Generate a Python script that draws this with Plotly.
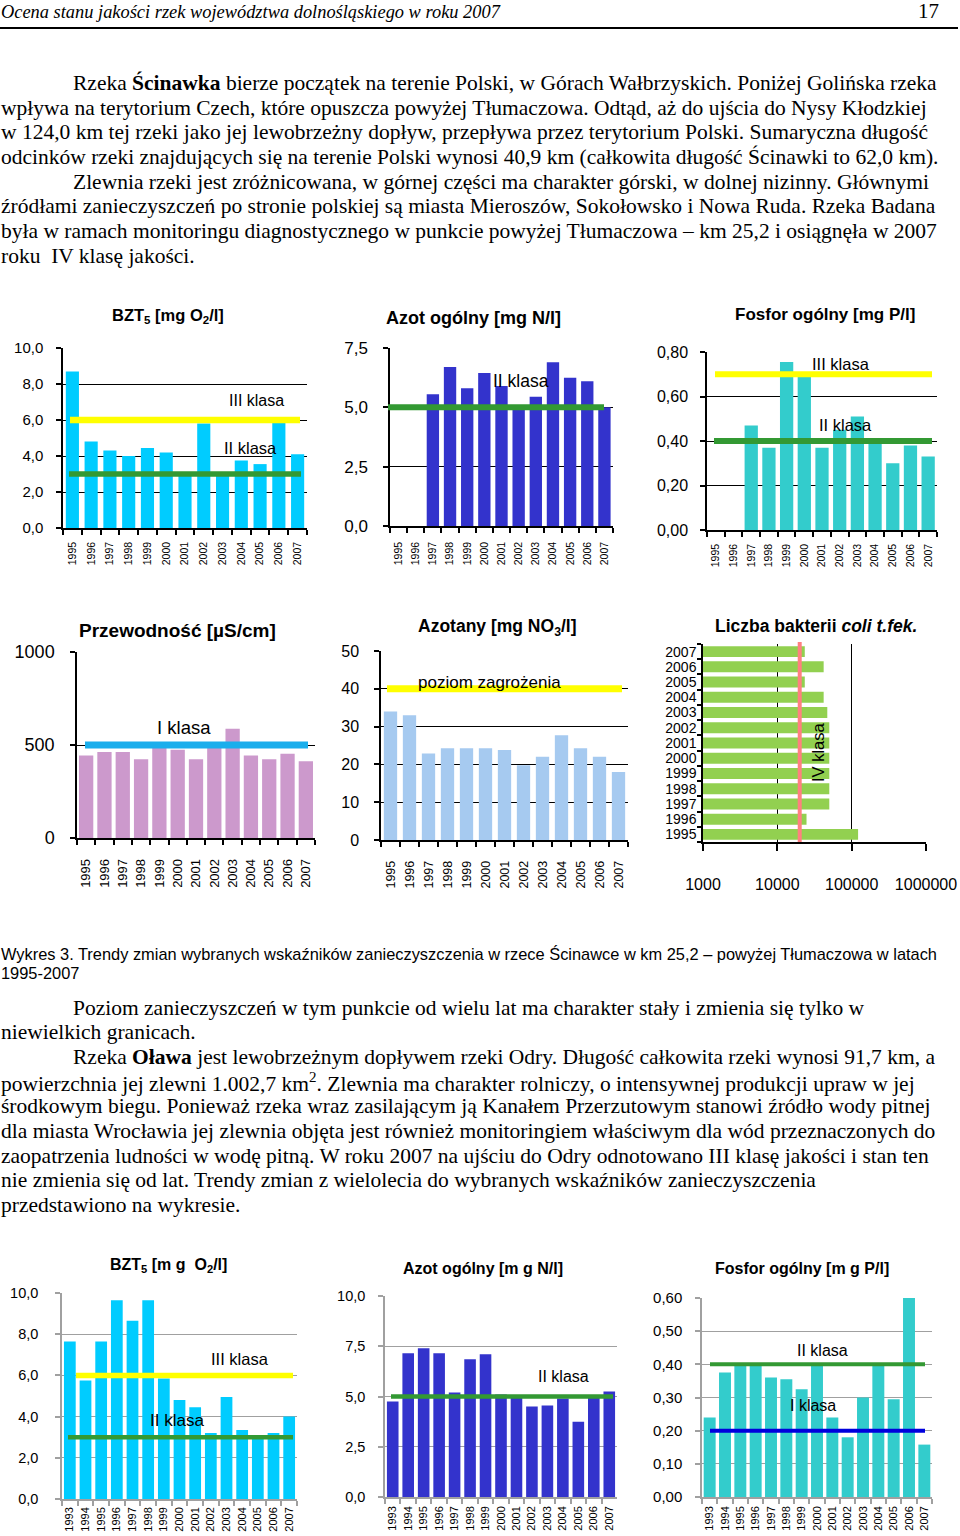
import plotly.graph_objects as go

W, H = 960, 1536
SANS = "Liberation Sans, Arial, sans-serif"
SERIF = "Liberation Serif, Times New Roman, serif"

# ---------------- data: Ścinawka (1995-2007) ----------------
SC_YEARS = ["1995", "1996", "1997", "1998", "1999", "2000", "2001",
            "2002", "2003", "2004", "2005", "2006", "2007"]
SC_BZT5 = [8.7, 4.8, 4.3, 4.0, 4.45, 4.2, 3.0, 5.8, 3.0, 3.75, 3.55, 5.9, 4.1]
SC_AZOT = [None, None, 5.55, 6.7, 5.8, 6.45, 5.9, 5.0, 5.45, 6.9, 6.25, 6.1, 5.0]
SC_FOSFOR = [None, None, 0.47, 0.37, 0.755, 0.69, 0.37, 0.45, 0.51, 0.41, 0.30, 0.38, 0.33]
SC_PRZEW = [443, 462, 462, 423, 490, 475, 423, 490, 588, 443, 423, 453, 412]
SC_AZOTANY = [34.0, 33.0, 22.9, 24.3, 24.3, 24.3, 23.8, 19.8, 22.0, 27.7, 24.3, 22.0, 18.0]
SC_COLI = [122000, 24700, 50000, 50000, 50000, 50000, 50000, 50000, 47000, 42000, 23400, 42000, 23400]

# ---------------- data: Oława (1993-2007) ----------------
OL_YEARS = ["1993", "1994", "1995", "1996", "1997", "1998", "1999", "2000",
            "2001", "2002", "2003", "2004", "2005", "2006", "2007"]
OL_BZT5 = [7.65, 5.75, 7.65, 9.65, 8.65, 9.65, 5.85, 4.8, 4.45, 3.2, 4.95, 3.35, 3.1, 3.2, 4.0]
OL_AZOT = [4.75, 7.15, 7.4, 7.15, 5.2, 6.85, 7.1, 5.1, 4.95, 4.5, 4.55, 4.9, 3.75, 4.95, 5.25]
OL_FOSFOR = [0.24, 0.375, 0.40, 0.40, 0.36, 0.355, 0.325, 0.40, 0.24, 0.18, 0.30, 0.40, 0.295, 0.61, 0.158]

# ---------------- class thresholds ----------------
BZT5_KL2, BZT5_KL3 = 3.0, 6.0
AZOT_KL2 = 5.0
FOSFOR_KL2, FOSFOR_KL3 = 0.4, 0.7
PRZEW_KL1 = 500
AZOTANY_ZAGR = 40
COLI_KL4 = 20000
OL_FOSFOR_KL1, OL_FOSFOR_KL2 = 0.2, 0.4

# ---------------- tick values ----------------
BZT5_TICKS = [0, 2, 4, 6, 8, 10]
AZOT_TICKS_SC = [0, 2.5, 5, 7.5]
FOSFOR_TICKS_SC = [0, 0.2, 0.4, 0.6, 0.8]
PRZEW_TICKS = [0, 500, 1000]
AZOTANY_TICKS = [0, 10, 20, 30, 40, 50]
COLI_TICKS = [1000, 10000, 100000, 1000000]
AZOT_TICKS_OL = [0, 2.5, 5, 7.5, 10]
FOSFOR_TICKS_OL = [0, 0.1, 0.2, 0.3, 0.4, 0.5, 0.6]

# ---------------- colours ----------------
SKY = "#00CCFF"
NAVY = "#3333CC"
TEAL = "#33CCCC"
PLUM = "#CC99CC"
LIGHTBLUE = "#A6CAF0"
LIME = "#92D050"
YELLOW = "#FFFF00"
GREEN = "#339933"
CYANLINE = "#1AAEEC"
BLUE = "#0000DD"
SALMON = "#FF8080"
GRAY = "#A0A0A0"

# ---------------- page text ----------------
PARA1 = [
    (72, 83, "Rzeka <b>Ścinawka</b> bierze początek na terenie Polski, w Górach Wałbrzyskich. Poniżej Golińska rzeka"),
    (0, 108, "wpływa na terytorium Czech, które opuszcza powyżej Tłumaczowa. Odtąd, aż do ujścia do Nysy Kłodzkiej"),
    (0, 132, "w 124,0 km tej rzeki jako jej lewobrzeżny dopływ, przepływa przez terytorium Polski. Sumaryczna długość"),
    (0, 157, "odcinków rzeki znajdujących się na terenie Polski wynosi 40,9 km (całkowita długość Ścinawki to 62,0 km)."),
    (72, 182, "Zlewnia rzeki jest zróżnicowana, w górnej części ma charakter górski, w dolnej nizinny. Głównymi"),
    (0, 206, "źródłami zanieczyszczeń po stronie polskiej są miasta Mieroszów, Sokołowsko i Nowa Ruda. Rzeka Badana"),
    (0, 231, "była w ramach monitoringu diagnostycznego w punkcie powyżej Tłumaczowa – km 25,2 i osiągnęła w 2007"),
    (0, 256, "roku  IV klasę jakości."),
]
PARA2 = [
    (72, 1008, "Poziom zanieczyszczeń w tym punkcie od wielu lat ma charakter stały i zmienia się tylko w"),
    (0, 1032, "niewielkich granicach."),
    (72, 1057, "Rzeka <b>Oława</b> jest lewobrzeżnym dopływem rzeki Odry. Długość całkowita rzeki wynosi 91,7 km, a"),
    (0, 1082, "powierzchnia jej zlewni 1.002,7 km<sup>2</sup>. Zlewnia ma charakter rolniczy, o intensywnej produkcji upraw w jej"),
    (0, 1106, "środkowym biegu. Ponieważ rzeka wraz zasilającym ją Kanałem Przerzutowym stanowi źródło wody pitnej"),
    (0, 1131, "dla miasta Wrocławia jej zlewnia objęta jest również monitoringiem właściwym dla wód przeznaczonych do"),
    (0, 1156, "zaopatrzenia ludności w wodę pitną. W roku 2007 na ujściu do Odry odnotowano III klasę jakości i stan ten"),
    (0, 1180, "nie zmienia się od lat. Trendy zmian z wielolecia do wybranych wskaźników zanieczyszczenia"),
    (0, 1205, "przedstawiono na wykresie."),
]
CAPTION = [
    (0, 954, "Wykres 3. Trendy zmian wybranych wskaźników zanieczyszczenia w rzece Ścinawce w km 25,2 – powyżej Tłumaczowa w latach"),
    (0, 973, "1995-2007"),
]

fig = go.Figure()
annotations = []
shapes = []


def note(text, x, y, size, family=SANS, xanchor="center", angle=0, color="black"):
    annotations.append(dict(
        text=text, x=x / W, y=1 - y / H, xref="paper", yref="paper",
        xanchor=xanchor, yanchor="middle", showarrow=False, textangle=angle,
        font=dict(family=family, size=size, color=color)))


def ax_names(i):
    s = "" if i == 1 else str(i)
    return "x" + s, "y" + s, "xaxis" + s, "yaxis" + s


# vertical bar chart specs
charts = [
    dict(box=(63, 348, 307, 528), cats=SC_YEARS, vals=SC_BZT5, color=SKY, rng=[0, 10],
         tv=BZT5_TICKS, fmt=".1f", grid="black", axc="black", ysz=15, ystand=10,
         xsz=10.5, xstand=8, gap=0.3,
         lines=[(BZT5_KL3, YELLOW, 70, 300, 6.5), (BZT5_KL2, GREEN, 69, 301, 5.5)]),
    dict(box=(390, 348, 613, 526), cats=SC_YEARS, vals=SC_AZOT, color=NAVY, rng=[0, 7.5],
         tv=AZOT_TICKS_SC, fmt=".1f", grid="black", axc="black", ysz=17, ystand=12,
         xsz=10.5, xstand=10, gap=0.28,
         lines=[(AZOT_KL2, GREEN, 388, 604, 6)]),
    dict(box=(707, 352, 937, 530), cats=SC_YEARS, vals=SC_FOSFOR, color=TEAL, rng=[0, 0.8],
         tv=FOSFOR_TICKS_SC, fmt=".2f", grid="black", axc="black", ysz=16, ystand=9,
         xsz=10.5, xstand=8, gap=0.25,
         lines=[(FOSFOR_KL3, YELLOW, 715, 932, 6), (FOSFOR_KL2, GREEN, 714, 932, 6)]),
    dict(box=(77, 652, 315, 838), cats=SC_YEARS, vals=SC_PRZEW, color=PLUM, rng=[0, 1000],
         tv=PRZEW_TICKS, fmt="d", grid="black", axc="black", ysz=18, ystand=12,
         xsz=13, xstand=14, gap=0.22,
         lines=[(PRZEW_KL1, CYANLINE, 85, 308, 7)]),
    dict(box=(381, 651, 628, 840), cats=SC_YEARS, vals=SC_AZOTANY, color=LIGHTBLUE, rng=[0, 50],
         tv=AZOTANY_TICKS, fmt="d", grid="black", axc="black", ysz=16, ystand=12,
         xsz=12.5, xstand=14, gap=0.3,
         lines=[(AZOTANY_ZAGR, YELLOW, 387, 622, 7)]),
    None,  # horizontal chart handled separately (index 6)
    dict(box=(62, 1293, 297, 1499), cats=OL_YEARS, vals=OL_BZT5, color=SKY, rng=[0, 10],
         tv=BZT5_TICKS, fmt=".1f", grid=GRAY, axc=GRAY, ysz=14.5, ystand=14,
         xsz=11, xstand=2, gap=0.25,
         lines=[(BZT5_KL3, YELLOW, 76, 293, 5.5), (BZT5_KL2, GREEN, 68, 293, 4.5)]),
    dict(box=(385, 1296, 617, 1497), cats=OL_YEARS, vals=OL_AZOT, color=NAVY, rng=[0, 10],
         tv=AZOT_TICKS_OL, fmt=".1f", grid=GRAY, axc=GRAY, ysz=14.5, ystand=10,
         xsz=11, xstand=3, gap=0.25,
         lines=[(AZOT_KL2, GREEN, 391, 613, 4.5)]),
    dict(box=(702, 1298, 932, 1497), cats=OL_YEARS, vals=OL_FOSFOR, color=TEAL, rng=[0, 0.6],
         tv=FOSFOR_TICKS_OL, fmt=".2f", grid=GRAY, axc=GRAY, ysz=15, ystand=10,
         xsz=11, xstand=3, gap=0.22,
         lines=[(OL_FOSFOR_KL2, GREEN, 710, 925, 4), (OL_FOSFOR_KL1, BLUE, 710, 925, 4)]),
]

layout_axes = {}
for i, c in enumerate(charts, start=1):
    if c is None:
        continue
    xa, ya, xk, yk = ax_names(i)
    l, t, r, b = c["box"]
    fig.add_trace(go.Bar(x=c["cats"], y=c["vals"], xaxis=xa, yaxis=ya, width=1 - c["gap"],
                         marker=dict(color=c["color"], line=dict(width=0)),
                         showlegend=False, hoverinfo="x+y"))
    layout_axes[xk] = dict(
        domain=[l / W, r / W], anchor=ya, type="category", automargin=False,
        categoryorder="array", categoryarray=c["cats"], tickson="boundaries",
        tickmode="linear", tick0=0, dtick=1,
        ticks="outside", ticklen=5, tickcolor=c["axc"], tickwidth=1.5,
        showline=True, linecolor=c["axc"], linewidth=1.5, showgrid=False,
        tickangle=-90, ticklabelstandoff=c["xstand"],
        tickfont=dict(family=SANS, size=c["xsz"], color="black"))
    layout_axes[yk] = dict(
        domain=[1 - b / H, 1 - t / H], anchor=xa, range=c["rng"], automargin=False,
        tickvals=c["tv"], tickformat=c["fmt"], showgrid=True,
        gridcolor=c["grid"], gridwidth=1.2, showline=True, linecolor=c["axc"],
        linewidth=1.5, ticks="outside", ticklen=5, tickcolor=c["axc"],
        tickwidth=1.5, zeroline=False, ticklabelstandoff=c["ystand"],
        tickfont=dict(family=SANS, size=c["ysz"], color="black"))
    for val, col, x0p, x1p, wid in c["lines"]:
        shapes.append(dict(type="line", xref=xa + " domain", yref=ya,
                           x0=(x0p - l) / (r - l), x1=(x1p - l) / (r - l),
                           y0=val, y1=val, line=dict(color=col, width=wid)))

# horizontal log bar chart (coli)
l, t, r, b = 703, 644, 926, 842
fig.add_trace(go.Bar(y=SC_YEARS, x=SC_COLI, orientation="h", xaxis="x6", yaxis="y6", width=0.72,
                     marker=dict(color=LIME, line=dict(width=0)), showlegend=False))
layout_axes["xaxis6"] = dict(
    domain=[l / W, r / W], anchor="y6", type="log", range=[3, 6], automargin=False,
    tickvals=COLI_TICKS, tickformat="d", showgrid=True, gridcolor="black",
    gridwidth=1.2, showline=True, linecolor="black", linewidth=1.5,
    ticks="outside", ticklen=7, tickwidth=1.5, tickcolor="black",
    zeroline=False, ticklabelstandoff=20,
    tickfont=dict(family=SANS, size=16, color="black"))
layout_axes["yaxis6"] = dict(
    domain=[1 - b / H, 1 - t / H], anchor="x6", type="category", automargin=False,
    categoryorder="array", categoryarray=SC_YEARS, tickson="boundaries",
    tickmode="linear", tick0=0, dtick=1,
    ticks="outside", ticklen=4, tickwidth=1.5, tickcolor="black",
    showline=True, linecolor="black", linewidth=1.5, showgrid=False,
    ticklabelstandoff=2, tickfont=dict(family=SANS, size=14, color="black"))
shapes.append(dict(type="line", xref="x6", yref="y6 domain", x0=COLI_KL4, x1=COLI_KL4,
                   y0=0, y1=1.01, line=dict(color=SALMON, width=4)))

# chart titles
note("<b>BZT<sub>5</sub> [mg O<sub>2</sub>/l]</b>", 168, 316, 16.5)
note("<b>Azot ogólny [mg N/l]</b>", 473, 318, 18)
note("<b>Fosfor ogólny [mg P/l]</b>", 825, 314, 17)
note("<b>Przewodność [µS/cm]</b>", 77, 630, 19, xanchor="left")
note("<b>Azotany [mg NO<sub>3</sub>/l]</b>", 497, 627, 17.5)
note("<b>Liczba bakterii <i>coli t.fek.</i></b>", 816, 626, 17.5)
note("<b>BZT<sub>5</sub> [m g  O<sub>2</sub>/l]</b>", 168, 1265, 16)
note("<b>Azot ogólny [m g N/l]</b>", 483, 1268, 16)
note("<b>Fosfor ogólny [m g P/l]</b>", 802, 1268, 16)

# class labels
note("III klasa", 256, 400, 16)
note("II klasa", 250, 448, 16.5)
note("II klasa", 521, 381, 17.5)
note("III klasa", 841, 364, 16.5)
note("II klasa", 845, 425, 16.5)
note("I klasa", 184, 727, 18.5)
note("poziom zagrożenia", 489, 683, 17)
note("IV klasa", 818, 752, 16.5, angle=-90)
note("III klasa", 240, 1359, 16.5)
note("II klasa", 177, 1420, 17)
note("II klasa", 563, 1376, 16)
note("II klasa", 822, 1350, 16)
note("I klasa", 813, 1405, 16)

# page header
note("<i>Ocena stanu jakości rzek województwa dolnośląskiego w roku 2007</i>", -1, 12, 18.4,
     family=SERIF, xanchor="left")
note("17", 941, 11, 21, family=SERIF, xanchor="right")
shapes.append(dict(type="line", xref="paper", yref="paper", x0=0, x1=958 / W,
                   y0=1 - 28 / H, y1=1 - 28 / H, line=dict(color="black", width=2)))

for x, y, txt in PARA1 + PARA2:
    note(txt, x - 1, y, 21.5, family=SERIF, xanchor="left")
for x, y, txt in CAPTION:
    note(txt, x - 1, y, 16.4, family=SANS, xanchor="left")

fig.update_layout(
    width=W, height=H, margin=dict(l=0, r=0, t=0, b=0, autoexpand=False),
    paper_bgcolor="white", plot_bgcolor="rgba(0,0,0,0)",
    font=dict(family=SANS, color="black"),
    separators=",.", showlegend=False,
    annotations=annotations, shapes=shapes, **layout_axes)

fig.write_html("out.html", config={"displayModeBar": False},
               post_script="document.body.style.margin='0';")
